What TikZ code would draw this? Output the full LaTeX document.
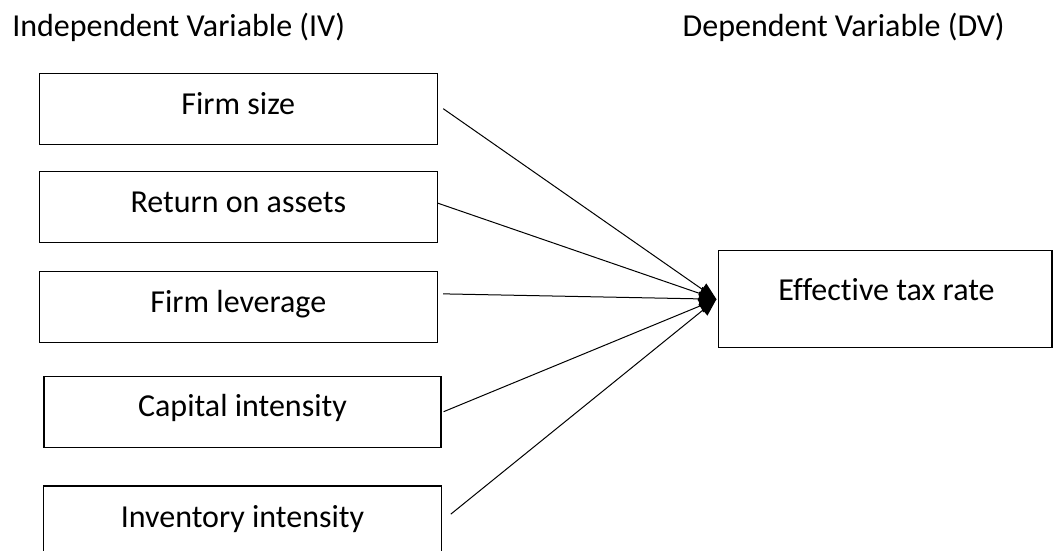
\documentclass[tikz,border=0pt]{standalone}
\usepackage{fontspec}
\setmainfont{Carlito}[Ligatures=NoCommon]
\usetikzlibrary{arrows.meta}
\begin{document}
\begin{tikzpicture}[x=0.75pt,y=-0.75pt,
  every node/.style={font=\fontsize{24}{29}\selectfont, inner sep=0pt},
  box/.style={draw=black, line width=0.9pt, rectangle, minimum width=#1*0.75pt, minimum height=71*0.75pt},
  lbl/.style={anchor=base},
  hdr/.style={anchor=base west},
  arr/.style={draw=black, line width=0.75pt, -{Triangle[length=13pt,width=10.5pt]}}]
\clip (0,0) rectangle (1053,550);
\fill[white] (0,0) rectangle (1053,550);
% headers
\node[hdr] (hiv) at (12,36) {Independent Variable (IV)};
\node[anchor=base east] (hdv) at (1005,36) {Dependent Variable (DV)};
% IV boxes
\node[box=398] (b1) at (238.3,108.7) {};
\node[lbl] (t1) at (238.3,114.3) {Firm size};
\node[box=398] (b2) at (238.3,207.2) {};
\node[lbl] (t2) at (238.3,212) {Return on assets};
\node[box=398] (b3) at (238.3,307.2) {};
\node[lbl] (t3) at (238.3,312.7) {Firm leverage};
\node[box=397] (b4) at (242.5,411.7) {};
\node[lbl] (t4) at (242.5,416.7) {Capital intensity};
\node[box=398] (b5) at (242.5,521.5) {};
\node[lbl] (t5) at (242.5,527.3) {Inventory intensity};
% DV box
\node[draw=black, line width=0.9pt, rectangle, minimum width=333.7*0.75pt, minimum height=97*0.75pt] (dv) at (885.2,299.2) {};
\node[lbl] (tdv) at (886.5,300) {Effective tax rate};
\coordinate (tip) at ([xshift=-1]dv.west);
% connectors
\draw[arr] ([xshift=4]b1.east) -- (tip);
\draw[arr] ([yshift=3]b2.east) -- (tip);
\draw[arr] ([xshift=4,yshift=10]b3.east) -- (tip);
\draw[arr] ([xshift=1.5]b4.east) -- (tip);
\draw[arr] ([xshift=6.5,yshift=5.5]b5.east) -- (tip);
\end{tikzpicture}
\end{document}
